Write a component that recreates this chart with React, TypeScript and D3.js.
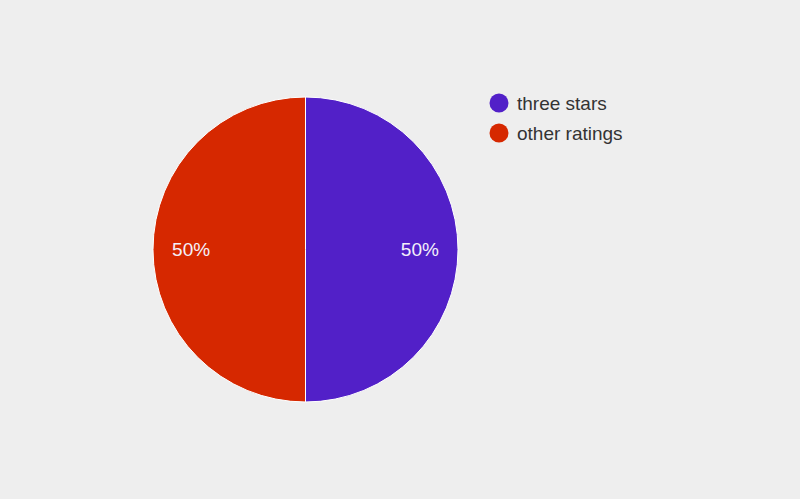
import { useRef, useEffect } from "react";
import { select, pie, arc, PieArcDatum } from "d3";

const categories = ["three stars", "other ratings"];
const values = [50, 50];
const colors = ["#5220c8", "#d62800"];

const W = 800;
const H = 499;

export default function App() {
  const svgRef = useRef<SVGSVGElement>(null);

  useEffect(() => {
    const svg = select(svgRef.current);
    svg.selectAll("*").remove();

    svg.append("rect").attr("width", W).attr("height", H).attr("fill", "#eeeeee");

    const cx = 305.5;
    const cy = 249.5;
    const r = 152.5;

    const data = categories.map((c, i) => ({ name: c, value: values[i], color: colors[i] }));
    type D = (typeof data)[number];

    const arcs = pie<D>().value((d) => d.value).sort(null)(data);
    const arcGen = arc<PieArcDatum<D>>().innerRadius(0).outerRadius(r);
    const labelArc = arc<PieArcDatum<D>>().innerRadius(r * 0.75).outerRadius(r * 0.75);

    const total = values.reduce((a, b) => a + b, 0);

    const g = svg.append("g").attr("transform", `translate(${cx},${cy})`);
    g.selectAll("path")
      .data(arcs)
      .join("path")
      .attr("d", arcGen)
      .attr("fill", (d) => d.data.color)
      .attr("stroke", "#ffffff")
      .attr("stroke-width", 1);

    g.selectAll("text")
      .data(arcs)
      .join("text")
      .attr("x", (d) => labelArc.centroid(d)[0])
      .attr("y", (d) => labelArc.centroid(d)[1])
      .attr("dy", "0.35em")
      .attr("text-anchor", "middle")
      .attr("fill", "#f4f0fa")
      .attr("font-family", "Arial, 'Liberation Sans', sans-serif")
      .attr("font-size", 19)
      .text((d) => `${Math.round((d.data.value / total) * 100)}%`);

    // legend
    const legend = svg
      .append("g")
      .selectAll("g")
      .data(data)
      .join("g")
      .attr("transform", (_, i) => `translate(499,${103 + i * 30})`);
    legend.append("circle").attr("r", 9.5).attr("fill", (d) => d.color);
    legend
      .append("text")
      .attr("x", 18)
      .attr("dy", "0.35em")
      .attr("fill", "#333333")
      .attr("font-family", "Arial, 'Liberation Sans', sans-serif")
      .attr("font-size", 19)
      .text((d) => d.name);
  }, []);

  return (
    <svg
      ref={svgRef}
      width={W}
      height={H}
      style={{ position: "absolute", left: 0, top: 0, display: "block" }}
    />
  );
}
